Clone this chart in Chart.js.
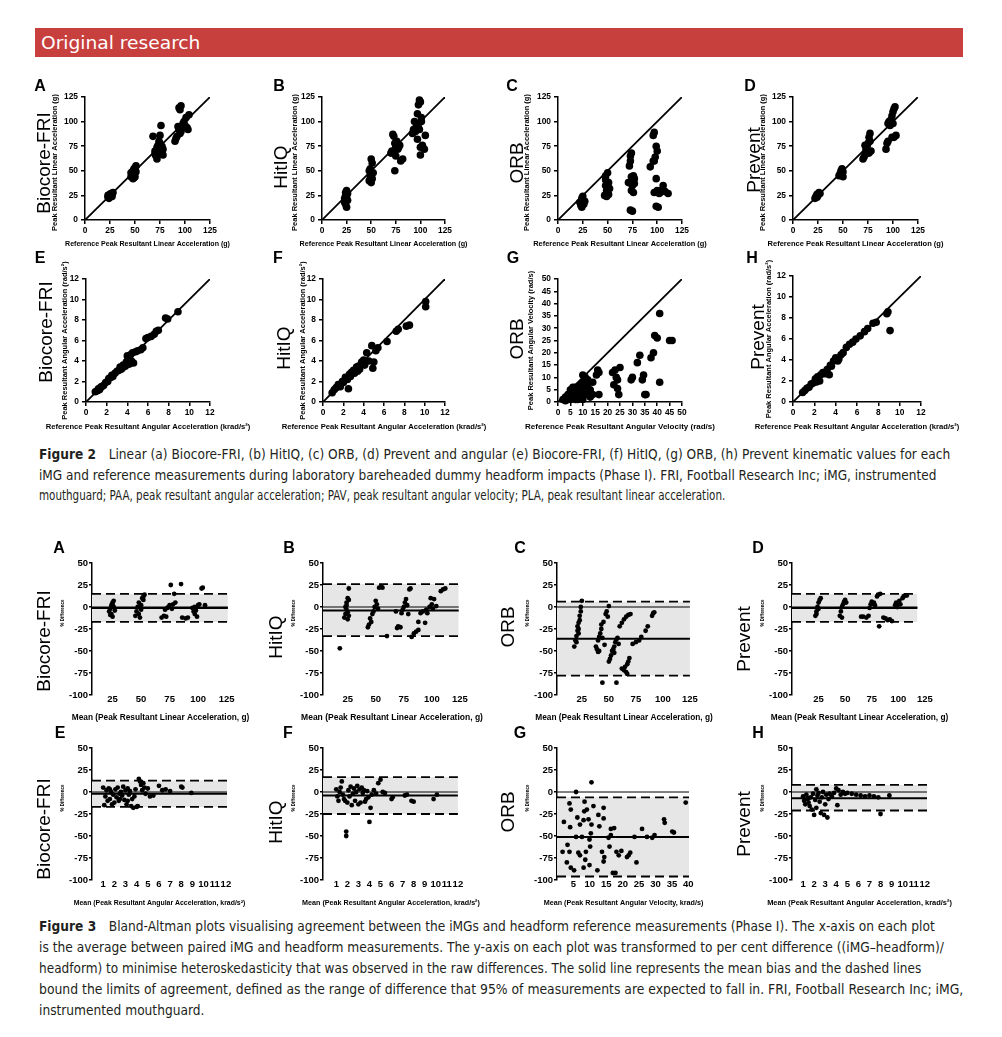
<!DOCTYPE html>
<html>
<head>
<meta charset="utf-8">
<script src="https://cdn.jsdelivr.net/npm/chart.js@4.4.1/dist/chart.umd.min.js"></script>
<style>
html, body { margin: 0; padding: 0; background: #fff; }
body { width: 1002px; height: 1037px; position: relative; overflow: hidden; font-family: "Liberation Sans", Arial, sans-serif; }
.abs { position: absolute; }
.bar { left: 35px; top: 28px; width: 928px; height: 29px; background: #c8403e; }
.bartxt { left: 41px; top: 33px; color: #fff; font: 18px/20px "Liberation Sans Narrow", "DejaVu Sans Condensed", sans-serif; white-space: nowrap; transform-origin: 0 0; }
.cap { left: 39px; white-space: nowrap; color: #231f20; font: 14px/16px "Liberation Sans Narrow", "DejaVu Sans Condensed", sans-serif; transform-origin: 0 0; }
.cap b { margin-right: 13px; }
.letter { font: bold 16px/16px "Liberation Sans", Arial, sans-serif; color: #000; transform: translate(-50%, -50%); }
.big { font: 19px/19px "Liberation Sans", Arial, sans-serif; color: #000; white-space: nowrap; transform: translate(-50%, -50%) rotate(-90deg); }
canvas { position: absolute; }
</style>
</head>
<body>
<div class="abs bar"></div>
<div class="abs bartxt" data-w="160">Original research</div>

<div class="abs cap" style="top:446px" data-w="911"><b>Figure 2</b>Linear (a) Biocore-FRI, (b) HitIQ, (c) ORB, (d) Prevent and angular (e) Biocore-FRI, (f) HitIQ, (g) ORB, (h) Prevent kinematic values for each</div>
<div class="abs cap" style="top:467px" data-w="897">iMG and reference measurements during laboratory bareheaded dummy headform impacts (Phase I). FRI, Football Research Inc; iMG, instrumented</div>
<div class="abs cap" style="top:487px" data-w="686">mouthguard; PAA, peak resultant angular acceleration; PAV, peak resultant angular velocity; PLA, peak resultant linear acceleration.</div>

<div class="abs cap" style="top:918px" data-w="896"><b>Figure 3</b>Bland-Altman plots visualising agreement between the iMGs and headform reference measurements (Phase I). The x-axis on each plot</div>
<div class="abs cap" style="top:939px" data-w="905">is the average between paired iMG and headform measurements. The y-axis on each plot was transformed to per cent difference ((iMG&#8211;headform)/</div>
<div class="abs cap" style="top:960px" data-w="882">headform) to minimise heteroskedasticity that was observed in the raw differences. The solid line represents the mean bias and the dashed lines</div>
<div class="abs cap" style="top:981px" data-w="924">bound the limits of agreement, defined as the range of difference that 95% of measurements are expected to fall in. FRI, Football Research Inc; iMG,</div>
<div class="abs cap" style="top:1002px" data-w="165">instrumented mouthguard.</div>

<script>
// ---- data ----
const devices = ['Biocore-FRI', 'HitIQ', 'ORB', 'Prevent'];
const panelLetters = ['A', 'B', 'C', 'D', 'E', 'F', 'G', 'H'];

const linTicks = [0, 25, 50, 75, 100, 125];
const angTicks = [0, 2, 4, 6, 8, 10, 12];
const velTicks = [0, 5, 10, 15, 20, 25, 30, 35, 40, 45, 50];
const baPctTicks = [-100, -75, -50, -25, 0, 25, 50];
const baLinTicks = [25, 50, 75, 100, 125];
const baAngTicks = [1, 2, 3, 4, 5, 6, 7, 8, 9, 10, 11, 12];
const baVelTicks = [5, 10, 15, 20, 25, 30, 35, 40];

// Figure 2: [reference, iMG]
const plaBiocore = [[23,23],[24,25],[25,24],[26,27],[27,26],[28,28],[24,22],[25,26],[27,24],[23,25],
  [46,44],[47,47],[48,42],[48,50],[49,46],[50,48],[50,53],[51,55],[49,52],[47,45],[50,44],[51,49],[46,48],[49,43],
  [68,85],[70,70],[71,65],[72,62],[72,74],[73,68],[74,72],[75,78],[75,86],[76,96],[76,70],[77,75],[78,72],[78,66],[74,80],[73,76],[70,67],[77,69],
  [90,80],[91,83],[92,85],[93,95],[94,92],[95,112],[96,116],[96,90],[98,98],[99,100],[100,96],[101,104],[102,94],[103,92],[104,107],[97,94],[95,88],[94,114]];
const plaHitiq = [[23,22],[24,25],[24,28],[25,30],[25,13],[26,20],[23,18],[25,24],[26,27],[24,16],
  [48,40],[48,50],[49,45],[50,43],[50,62],[51,58],[52,48],[49,52],[50,38],[51,42],
  [70,68],[71,70],[72,87],[73,85],[74,78],[74,50],[75,65],[75,75],[76,80],[77,72],[78,74],[80,60],[82,62],[79,76],[73,68],
  [92,88],[93,92],[94,100],[95,90],[96,96],[97,82],[97,108],[98,117],[99,122],[100,120],[100,66],[101,100],[100,74],[102,76],[104,72],[105,86],[98,94],[101,104],[99,92]];
const plaOrb = [[22,18],[23,15],[24,22],[25,24],[26,16],[25,20],[24,13],[27,19],
  [47,25],[48,35],[48,45],[49,30],[50,48],[50,28],[51,38],[52,32],[49,24],[51,26],[48,41],[50,34],
  [71,38],[72,55],[73,60],[73,65],[74,68],[74,44],[75,40],[75,35],[76,45],[77,42],[74,30],[76,28],[73,10],[75,9],[77,37],[72,38],
  [93,54],[96,86],[97,89],[96,60],[98,64],[99,75],[100,70],[99,42],[100,30],[97,28],[102,27],[104,30],[106,35],[108,29],[111,27],[99,14],[101,13],[103,28],[97,60]];
const plaPrevent = [[22,22],[23,24],[24,26],[25,25],[26,28],[27,27],[24,23],
  [46,45],[47,47],[48,50],[49,52],[50,44],[48,46],[50,49],
  [70,62],[71,64],[72,66],[73,72],[74,75],[75,78],[76,84],[77,88],[78,70],[76,68],[72,76],[77,80],
  [93,72],[94,78],[95,80],[95,98],[96,100],[97,96],[98,102],[99,106],[100,110],[101,113],[102,115],[99,84],[101,84],[103,86],[97,99],[100,98]];
const paaBiocore = [[0.9,1.0],[1.1,1.1],[1.2,1.3],[1.4,1.4],[1.5,1.5],[1.7,1.6],[1.9,1.9],[2.1,2.0],[2.2,2.3],[2.4,2.4],[2.6,2.5],[2.8,2.8],
  [3.0,3.0],[3.2,3.1],[3.3,3.4],[3.5,3.3],[3.6,3.6],[3.8,3.5],[3.9,3.9],[4.0,4.5],[4.1,4.2],[4.2,3.7],[4.3,4.6],[4.4,4.0],[4.5,4.8],[4.6,3.8],
  [4.8,4.9],[5.0,5.0],[5.3,5.1],[5.5,5.3],[5.8,6.2],[6.0,6.3],[6.3,6.4],[6.6,6.6],[6.8,6.9],[7.0,7.0],[7.7,8.2],[7.9,8.1],[8.9,8.8],[2.5,2.6],[3.4,3.2],[1.3,1.2]];
const paaHitiq = [[0.9,0.9],[1.1,1.2],[1.3,1.4],[1.5,1.7],[1.7,1.5],[2.0,1.9],[2.2,2.4],[2.4,2.2],[2.5,1.3],[2.6,2.7],[2.8,2.9],[3.0,3.1],
  [3.1,2.8],[3.3,3.4],[3.5,3.5],[3.6,3.2],[3.8,3.9],[4.0,4.1],[4.1,3.6],[4.3,4.8],[4.5,4.0],[4.8,5.5],[4.9,3.3],[5.0,3.9],[5.2,5.0],[5.4,5.3],
  [6.3,5.9],[7.2,6.9],[7.4,7.1],[8.2,7.4],[8.5,7.5],[10.1,9.8],[10.1,9.3],[2.7,2.5],[3.4,3.0],[1.9,2.0]];
const pavOrb = [[2,1],[3,2],[3,0.5],[4,1],[4,3],[5,3],[5,5],[5,1],[6,4],[6,2],[6,6],[7,6],[7,1],[7,3],[8,3],[8,5],[8,1],[9,7],[9,2],[9,4],
  [10,8],[10,11],[10,4],[10,1],[11,6],[11,10],[11,3],[12,9],[12,7],[12,3],[13,5],[13,2],[14,8],[14,3],
  [15.5,11],[16,13],[16.5,12],[16.5,3],[22.5,7],[22,12],[23,13],[23.5,10],[24,5.5],[24.5,3],[25,14],[24,9],
  [29.5,9],[30,10],[32,16],[33,19],[34,9],[34.5,11],[35,3],[35.5,3],[37.5,18],[38.5,20],[39,27],[40,26],[41,36],[41,8],[45,25],[46,25]];
const paaPrevent = [[0.9,0.9],[1.1,1.1],[1.3,1.3],[1.5,1.4],[1.7,1.7],[1.9,1.8],[2.1,2.2],[2.3,2.4],[2.5,2.0],[2.6,2.6],[2.8,2.8],[3.0,2.7],
  [3.2,3.1],[3.4,2.6],[3.5,3.5],[3.8,3.9],[4.0,4.2],[4.2,3.9],[4.3,4.1],[4.5,4.5],[4.7,4.7],[5.0,5.2],[5.3,5.5],[5.6,5.7],[5.9,6.0],
  [6.3,6.3],[6.7,6.7],[7.0,7.0],[7.5,7.5],[7.8,7.6],[8.8,8.4],[8.9,8.6],[9.1,6.8],[2.2,1.9],[3.6,3.4]];

// Figure 3: [mean, % difference]
const baPlaBiocore = [[22,-5],[23,-2],[24,2],[24,-8],[25,5],[25,-11],[26,0],[26,7],[27,-4],[23,-9],[25,3],
  [45,-10],[46,-5],[47,0],[48,5],[48,-8],[49,-12],[50,2],[51,10],[52,12],[53,14],[50,-3],[52,8],
  [68,-12],[70,-10],[72,-11],[74,0],[75,2],[76,25],[77,-2],[78,3],[79,15],[80,5],[73,-1],[71,-3],[85,26],[86,-12],[89,-13],[91,-12],
  [95,-1],[96,-5],[97,0],[98,-4],[99,-11],[100,2],[101,3],[103,21],[104,22],[106,2],[97,-8]];
const baPlaHitiq = [[18,-47],[22,-12],[23,-8],[24,-3],[24,5],[25,10],[25,-14],[26,8],[26,21],[23,0],[25,-6],[26,-10],[24,2],
  [43,-23],[44,-20],[45,-13],[46,-17],[47,-8],[48,-5],[49,0],[50,7],[51,3],[52,-2],[53,22],[55,23],[56,22],[60,-33],
  [68,-5],[69,-24],[70,-22],[72,-23],[74,-3],[75,0],[76,5],[77,9],[78,2],[79,-8],[80,20],[81,21],[73,-7],
  [82,-34],[84,-30],[86,-28],[88,-26],[88,-17],[90,-7],[92,-5],[94,-18],[95,-3],[96,-7],
  [98,0],[99,10],[100,3],[101,-2],[102,9],[104,1],[108,18],[110,20],[112,21]];
const baPlaOrb = [[18,-45],[19,-38],[20,-33],[21,-27],[21,-22],[22,-18],[22,-25],[23,-15],[23,-10],[24,-5],[24,0],[25,7],[22,-30],[20,-40],
  [38,-45],[39,-48],[40,-51],[41,-50],[40,-38],[41,-34],[42,-30],[43,-25],[43,-20],[44,-35],[45,-17],[46,-43],[47,-8],[48,-5],[49,-11],[50,1],[44,-86],
  [50,-62],[51,-59],[52,-55],[53,-50],[54,-48],[55,-45],[56,-40],[57,-37],[58,-35],[55,-52],[57,-86],[59,-42],
  [60,-22],[62,-18],[64,-14],[66,-11],[68,-9],[70,-8],[62,-70],[64,-72],[66,-74],[67,-76],[68,-62],[69,-58],[65,-68],[67,-65],
  [72,-42],[75,-40],[78,-38],[80,-34],[84,-27],[86,-22],[90,-10],[91,-7],[92,-6]];
const baPlaPrevent = [[22,-10],[23,-5],[24,0],[25,5],[26,8],[27,10],[23,-8],[25,-2],
  [45,-10],[46,-5],[47,0],[48,3],[49,6],[50,8],[51,5],[47,-12],
  [65,-11],[67,-11],[70,-12],[72,-10],[74,3],[75,6],[76,4],[77,5],[78,2],[73,-1],
  [80,12],[81,14],[82,-22],[83,15],[86,-12],[88,-13],[90,-15],[92,-14],[94,-16],
  [97,2],[98,5],[99,0],[100,4],[101,7],[102,3],[104,10],[105,12],[106,13],[108,13]];
const baPaaBiocore = [[1.0,5],[1.1,-15],[1.2,-5],[1.3,2],[1.4,-10],[1.5,4],[1.6,-8],[1.7,0],[1.8,-14],[1.9,-3],[2.0,-12],[2.1,3],
  [2.2,-6],[2.3,5],[2.4,-10],[2.5,-2],[2.6,0],[2.7,-4],[2.8,6],[2.9,-9],[3.0,2],[3.1,-14],[3.2,4],[3.3,-3],[3.4,1],[3.5,-16],
  [3.6,-8],[3.7,-18],[3.8,-5],[3.9,3],[4.0,-17],[4.1,-16],[4.2,15],[4.3,12],[4.4,8],[4.5,2],[4.6,10],[4.7,5],[4.8,-2],[5.0,4],
  [5.2,-5],[5.5,-4],[6.0,7],[6.3,2],[6.6,3],[7.0,1],[8.0,6],[8.1,5],[8.9,-1],[2.5,-8],[3.2,-10],[1.6,3]];
const baPaaHitiq = [[1.0,3],[1.1,-5],[1.2,-10],[1.3,0],[1.4,5],[1.5,12],[1.6,-3],[1.7,-8],[1.8,-10],[1.9,-45],[1.9,-50],[2.0,-12],
  [2.1,2],[2.2,-5],[2.3,6],[2.4,-15],[2.5,-2],[2.6,4],[2.7,-10],[2.8,0],[2.9,7],[3.0,-14],[3.1,3],[3.2,-12],[3.3,5],[3.4,-1],
  [3.5,2],[3.6,-11],[3.7,-8],[3.8,1],[3.9,-6],[4.0,-34],[4.1,-18],[4.2,-3],[4.4,2],[4.6,-2],[4.8,10],[5.0,14],[5.2,0],[5.4,-1],
  [6.0,-8],[6.1,-6],[7.2,-4],[7.4,-3],[7.8,-10],[8.0,-11],[9.8,-8],[10.1,-3]];
const baPavOrb = [[1.7,-68],[2.1,-34],[3.2,-60],[3.0,-80],[3.8,-13],[4.2,-20],[4.0,-40],[3.8,-68],[4.2,-86],[5.2,-89],[5.8,-51],
  [5.8,0],[6.2,-29],[6.5,-69],[7.0,-72],[7.6,-51],[7.0,-37],[8.1,-32],[8.3,-22],[8.4,-11],[9.1,-20],[8.8,-68],[8.6,-77],[8.1,-86],
  [9.6,-31],[9.9,-54],[10.3,-47],[9.9,-83],[10.5,11],[10.5,-37],[11.1,-16],[10.1,-62],[12.3,-89],[12.6,-26],[12.9,-39],[14.2,-18],
  [14.2,-30],[13.7,-68],[14.2,-79],[14.4,-74],[15.7,-52],[16.0,-62],[16.4,-42],[16.4,-49],[17.4,-41],[17.0,-92],[17.8,-92],[18.1,-68],
  [18.8,-72],[19.6,-67],[21.3,-74],[21.8,-72],[22.3,-69],[23.6,-51],[24.2,-80],[25.9,-42],[27.4,-51],[29.0,-52],[29.7,-49],
  [32.6,-31],[32.8,-35],[35.1,-45],[35.6,-46],[39.2,-12]];
const baPaaPrevent = [[1.0,-5],[1.1,-10],[1.2,-14],[1.3,-3],[1.4,-8],[1.5,-12],[1.6,-16],[1.7,-6],[1.8,-20],[1.9,-2],[2.0,-26],
  [2.1,-9],[2.2,3],[2.3,-4],[2.4,-1],[2.5,-11],[2.6,-24],[2.7,-6],[2.8,0],[2.9,-26],[3.0,-14],[3.1,-3],[3.2,-29],[3.3,-8],[3.4,-2],
  [3.6,-5],[3.8,-1],[4.0,4],[4.1,-15],[4.2,2],[4.4,-3],[4.6,0],[4.8,-2],[5.0,-1],[5.4,-2],[5.8,-3],[6.2,-4],[6.6,-5],[7.0,-4],
  [7.4,-5],[7.8,-6],[8.0,-25],[8.8,-4],[2.2,-18],[1.5,-7]];

// mean bias and limits of agreement (%), panels A-H
const baBias = [-1, -4, -36, -1, -2, -4, -51, -7];
const baUpper = [15, 26, 6, 15, 13, 17, -6, 8];
const baLower = [-17, -33, -78, -17, -17, -25, -96, -21];

// ---- helpers ----
const FAMILY = '"Liberation Sans", Arial, sans-serif';
const measureCtx = document.createElement('canvas').getContext('2d');
// font size that makes text this many pixels wide
function fitSize(text, target) {
  measureCtx.font = 'bold 20px ' + FAMILY;
  return 20 * target / measureCtx.measureText(text).width;
}
function bold(size) { return { family: FAMILY, size: size, weight: 'bold' }; }

const f2Tick = fitSize('125', 14);
const f2YTitle = fitSize('Peak Resultant Linear Acceleration (g)', 137);
const f3Tick = fitSize('-100', 19);
const f3YTitle = fitSize('% Difference', 27);

// axis titles drawn at full width (the built-in ones get squeezed to the plot size)
const outerTitles = {
  id: 'outerTitles',
  afterDraw(chart, args, o) {
    const { ctx, chartArea: a } = chart;
    ctx.save();
    ctx.fillStyle = '#000';
    ctx.textAlign = 'center';
    ctx.textBaseline = 'middle';
    ctx.font = 'bold ' + o.xSize + 'px ' + FAMILY;
    ctx.fillText(o.xText, (a.left + a.right) / 2, a.bottom + o.xOff);
    ctx.translate(a.left - o.yOff, (a.top + a.bottom) / 2 + (o.yShift || 0));
    ctx.rotate(-Math.PI / 2);
    ctx.font = 'bold ' + o.ySize + 'px ' + FAMILY;
    ctx.fillText(o.yText, 0, 0);
    ctx.restore();
  }
};

function toXY(pts) { return pts.map(p => ({ x: p[0], y: p[1] })); }

function addDiv(cls, text, x, y) {
  const d = document.createElement('div');
  d.className = 'abs ' + cls;
  d.textContent = text;
  d.style.left = x + 'px';
  d.style.top = y + 'px';
  document.body.appendChild(d);
}

function makeCanvas(left, top, w, h) {
  const c = document.createElement('canvas');
  c.width = w; c.height = h;
  c.style.left = left + 'px'; c.style.top = top + 'px';
  c.style.width = w + 'px'; c.style.height = h + 'px';
  document.body.appendChild(c);
  return c;
}

function fixedTicks(vals) {
  return s => { s.ticks = vals.map(v => ({ value: v })); };
}

function baseOpts(titles) {
  return {
    responsive: false, animation: false, events: [], devicePixelRatio: 1,
    plugins: { legend: { display: false }, tooltip: { enabled: false },
      filler: { drawTime: 'beforeDatasetsDraw' }, outerTitles: titles }
  };
}

// ---- Figure 2 ----
const linY = 'Peak Resultant Linear Acceleration (g)', linX = 'Reference Peak Resultant Linear Acceleration (g)';
const angY = 'Peak Resultant Angular Acceleration (rad/s\u00b2)', angX = 'Reference Peak Resultant Angular Acceleration (krad/s\u00b2)';
const velY = 'Peak Resultant Angular Velocity (rad/s)', velX = 'Reference Peak Resultant Angular Velocity (rad/s)';

const fig2 = [
  { pts: plaBiocore, ax: 85, top: 97, w: 125, h: 123, max: 125, ticks: linTicks, xOff: 24, yOff: 30, yShift: 4, yT: linY, xT: linX, xTW: 165, big: [43, 163], let: [40, 86] },
  { pts: plaHitiq, ax: 322, top: 97, w: 123, h: 123, max: 125, ticks: linTicks, xOff: 24, yOff: 27, yShift: 4, yT: linY, xT: linX, xTW: 168, big: [280, 167], let: [279, 86] },
  { pts: plaOrb, ax: 558, top: 97, w: 124, h: 123, max: 125, ticks: linTicks, xOff: 24, yOff: 31, yShift: 4, yT: linY, xT: linX, xTW: 174, big: [516, 163], let: [512, 86] },
  { pts: plaPrevent, ax: 793, top: 97, w: 125, h: 123, max: 125, ticks: linTicks, xOff: 24, yOff: 30, yShift: 4, yT: linY, xT: linX, xTW: 176, big: [753, 160], let: [750, 86] },
  { pts: paaBiocore, ax: 86, top: 279, w: 124, h: 123, max: 12, ticks: angTicks, xOff: 25, yOff: 21, yShift: 0, yT: angY, xT: angX, xTW: 205, big: [45, 332], let: [40, 258] },
  { pts: paaHitiq, ax: 323, top: 279, w: 122, h: 123, max: 12, ticks: angTicks, xOff: 25, yOff: 20, yShift: 0, yT: angY, xT: angX, xTW: 205, big: [283, 348], let: [278, 258] },
  { pts: pavOrb, ax: 558, top: 279, w: 124, h: 123, max: 50, ticks: velTicks, xOff: 25, yOff: 27, yShift: 0, yT: velY, xT: velX, xTW: 190, big: [516, 339], let: [513, 258] },
  { pts: paaPrevent, ax: 793, top: 276, w: 128, h: 126, max: 12, ticks: angTicks, xOff: 25, yOff: 24, yShift: 0, yT: angY, xT: angX, xTW: 205, big: [757, 337], let: [752, 258] }
];

fig2.forEach((p, i) => {
  const padTop = 20, padL = 40, padR = 45, yW = 22, xH = 32;
  const cv = makeCanvas(p.ax - yW - padL, p.top - padTop, padL + yW + p.w + padR, padTop + p.h + xH);
  addDiv('letter', panelLetters[i], p.let[0], p.let[1]);
  addDiv('big', devices[i % 4], p.big[0], p.big[1]);
  const titles = { xText: p.xT, xSize: fitSize(p.xT, p.xTW), xOff: p.xOff, yText: p.yT, ySize: f2YTitle, yOff: p.yOff, yShift: p.yShift };
  new Chart(cv, {
    type: 'scatter',
    data: { datasets: [
      { data: toXY(p.pts), pointRadius: 3.8, pointBackgroundColor: '#000', pointBorderWidth: 0, clip: false },
      { type: 'line', data: [{ x: 0, y: 0 }, { x: p.max, y: p.max }], borderColor: '#000', borderWidth: 1.8, pointRadius: 0, fill: false }
    ] },
    plugins: [outerTitles],
    options: Object.assign(baseOpts(titles), {
      layout: { padding: { top: padTop, right: padR, left: padL, bottom: 0 } },
      scales: {
        x: { type: 'linear', min: 0, max: p.max, afterBuildTicks: fixedTicks(p.ticks),
          ticks: { font: bold(f2Tick), color: '#000', padding: 2, autoSkip: false, maxRotation: 0 },
          border: { color: '#000', width: 1.5 },
          grid: { drawOnChartArea: false, color: '#000', lineWidth: 1.5, tickLength: 4 },
          afterFit: s => { s.height = xH; } },
        y: { type: 'linear', min: 0, max: p.max, afterBuildTicks: fixedTicks(p.ticks),
          ticks: { font: bold(f2Tick), color: '#000', padding: 3, autoSkip: false },
          border: { color: '#000', width: 1.5 },
          grid: { drawOnChartArea: false, color: '#000', lineWidth: 1.5, tickLength: 4 },
          afterFit: s => { s.width = yW; } }
      }
    })
  });
});

// ---- Figure 3 ----
const baLinX = 'Mean (Peak Resultant Linear Acceleration, g)';
const baAngX = 'Mean (Peak Resultant Angular Acceleration, krad/s\u00b2)';
const baVelX = 'Mean (Peak Resultant Angular Velocity, krad/s)';

const fig3 = [
  { pts: baPlaBiocore, ax: 92, top: 563, w: 137, min: 7, max: 127, end: 126, ticks: baLinTicks, xT: baLinX, xTW: 178, big: [43, 641], let: [59, 548] },
  { pts: baPlaHitiq, ax: 323, top: 563, w: 138, min: 3, max: 126, end: 124, ticks: baLinTicks, xT: baLinX, xTW: 182, big: [275, 637], let: [289, 548] },
  { pts: baPlaOrb, ax: 557, top: 563, w: 134, min: 2, max: 126, end: 125, ticks: baLinTicks, xT: baLinX, xTW: 178, big: [507, 627], let: [520, 548] },
  { pts: baPlaPrevent, ax: 792, top: 563, w: 135, min: 0, max: 127, end: 118, ticks: baLinTicks, xT: baLinX, xTW: 178, big: [743, 639], let: [758, 548] },
  { pts: baPaaBiocore, ax: 92, top: 748, w: 135, min: 0, max: 12.1, end: 12.1, ticks: baAngTicks, xT: baAngX, xTW: 172, big: [43, 829], let: [60, 733] },
  { pts: baPaaHitiq, ax: 323, top: 748, w: 136, min: -0.2, max: 12.1, end: 12, ticks: baAngTicks, xT: baAngX, xTW: 178, big: [275, 822], let: [288, 733] },
  { pts: baPavOrb, ax: 557, top: 748, w: 133, min: 0, max: 40.5, end: 40.2, ticks: baVelTicks, xT: baVelX, xTW: 160, big: [507, 812], let: [520, 733] },
  { pts: baPaaPrevent, ax: 792, top: 748, w: 135, min: 0, max: 12.2, end: 12.2, ticks: baAngTicks, xT: baAngX, xTW: 185, big: [743, 824], let: [758, 733] }
];

fig3.forEach((p, i) => {
  const padTop = 8, padL = 14, padR = 30, yW = 26, h = 132, xH = 30;
  const cv = makeCanvas(p.ax - yW - padL, p.top - padTop, padL + yW + p.w + padR, padTop + h + xH);
  addDiv('letter', panelLetters[i], p.let[0], p.let[1]);
  addDiv('big', devices[i % 4], p.big[0], p.big[1]);
  const titles = { xText: p.xT, xSize: fitSize(p.xT, p.xTW), xOff: 23, yText: '% Difference', ySize: f3YTitle, yOff: 29, yShift: -16 };
  const hline = (y, extra) => Object.assign({ type: 'line', data: [{ x: p.min, y: y }, { x: p.end, y: y }],
    borderColor: '#000', pointRadius: 0, fill: false }, extra);
  new Chart(cv, {
    type: 'scatter',
    data: { datasets: [
      { data: toXY(p.pts), pointRadius: 2.4, pointBackgroundColor: '#000', pointBorderWidth: 0, clip: false },
      hline(baBias[i], { borderWidth: 2 }),
      hline(0, { borderWidth: 1 }),
      hline(baUpper[i], { borderWidth: 1.8, borderDash: [9, 5], fill: '+1', backgroundColor: '#e6e6e6' }),
      hline(baLower[i], { borderWidth: 1.8, borderDash: [9, 5] })
    ] },
    plugins: [outerTitles],
    options: Object.assign(baseOpts(titles), {
      layout: { padding: { top: padTop, right: padR, left: padL, bottom: 0 } },
      scales: {
        x: { type: 'linear', min: p.min, max: p.max, afterBuildTicks: fixedTicks(p.ticks),
          ticks: { font: bold(f3Tick), color: '#000', padding: -1, autoSkip: false, maxRotation: 0 },
          border: { display: false },
          grid: { display: false, drawTicks: false },
          afterFit: s => { s.height = xH; } },
        y: { type: 'linear', min: -100, max: 50, afterBuildTicks: fixedTicks(baPctTicks),
          ticks: { font: bold(f3Tick), color: '#000', padding: 1, autoSkip: false },
          border: { color: '#000', width: 1.5 },
          grid: { drawOnChartArea: false, color: '#000', lineWidth: 1.5, tickLength: 3 },
          afterFit: s => { s.width = yW; } }
      }
    })
  });
});

// fit caption and header lines to their widths in the page
document.querySelectorAll('[data-w]').forEach(el => {
  el.style.display = 'inline-block';
  const w = el.offsetWidth;
  el.style.transform = 'scaleX(' + (el.dataset.w / w) + ')';
});
</script>
</body>
</html>
